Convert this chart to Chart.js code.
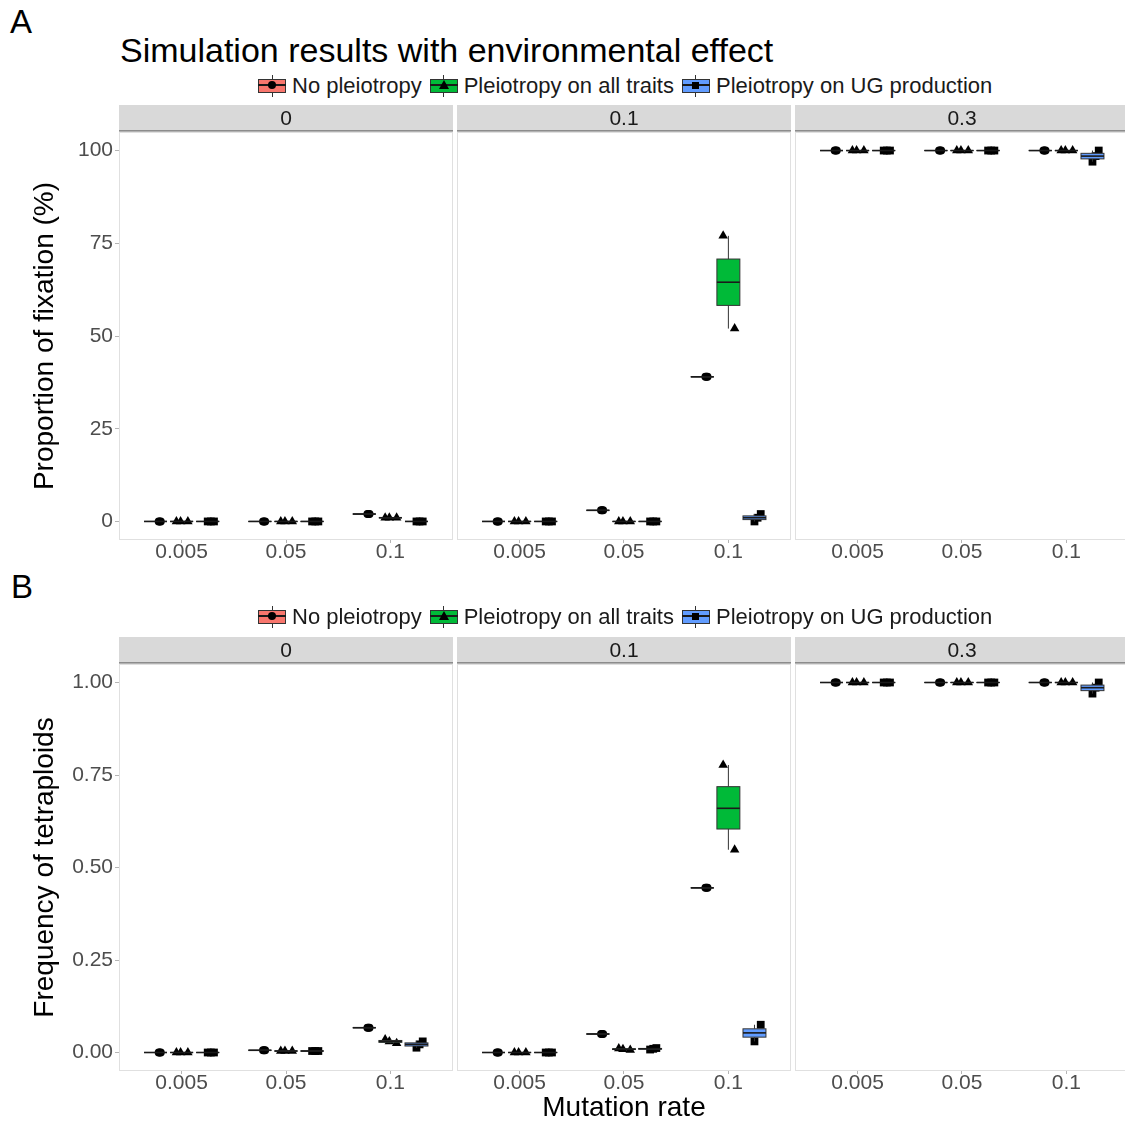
<!DOCTYPE html>
<html>
<head>
<meta charset="utf-8">
<script src="https://cdn.jsdelivr.net/npm/chart.js@4.4.1/dist/chart.umd.min.js"></script>
<style>
html,body{margin:0;padding:0;background:#fff;overflow:hidden;width:1125px;height:1122px;}
body{position:relative;font-family:'Liberation Sans',Arial,sans-serif;}
canvas{position:absolute;left:0;}
.lbl{position:absolute;font-size:33px;line-height:33px;color:#000;white-space:nowrap;}
.legend{position:absolute;left:258px;height:24px;display:flex;align-items:center;font-size:22px;color:#1a1a1a;white-space:nowrap;}
.key{position:relative;width:28px;height:22px;margin-right:6px;flex:none;}
.key .wh{position:absolute;left:13.5px;top:0;width:1px;height:22px;background:#333;}
.key .bx{position:absolute;left:0;top:4px;width:26px;height:12px;border:1px solid #333;}
.key .md{position:absolute;left:0;top:9px;width:28px;height:2px;background:#1a1a1a;}
.key .c{position:absolute;left:10px;top:6px;width:8px;height:8px;border-radius:50%;background:#000;}
.key .t{position:absolute;left:9px;top:5px;width:0;height:0;border-left:5px solid transparent;border-right:5px solid transparent;border-bottom:9px solid #000;}
.key .s{position:absolute;left:10.5px;top:6.5px;width:7px;height:7px;background:#000;}
.lt{margin-right:8px;}
</style>
</head>
<body>
<div class="lbl" style="left:10px;top:5px;">A</div>
<div class="lbl" style="left:120px;top:33px;font-size:34px;line-height:34px;">Simulation results with environmental effect</div>
<div class="lbl" style="left:11px;top:570px;">B</div>
<canvas id="rowA"></canvas>
<canvas id="rowB"></canvas>
<div class="legend" style="top:74px;">
  <span class="key"><i class="wh"></i><i class="bx" style="background:#F8766D"></i><i class="md"></i><i class="c"></i></span><span class="lt">No pleiotropy</span>
  <span class="key"><i class="wh"></i><i class="bx" style="background:#00BA38"></i><i class="md"></i><i class="t"></i></span><span class="lt">Pleiotropy on all traits</span>
  <span class="key"><i class="wh"></i><i class="bx" style="background:#619CFF"></i><i class="md"></i><i class="s"></i></span><span class="lt">Pleiotropy on UG production</span>
</div>
<div class="legend" style="top:605px;">
  <span class="key"><i class="wh"></i><i class="bx" style="background:#F8766D"></i><i class="md"></i><i class="c"></i></span><span class="lt">No pleiotropy</span>
  <span class="key"><i class="wh"></i><i class="bx" style="background:#00BA38"></i><i class="md"></i><i class="t"></i></span><span class="lt">Pleiotropy on all traits</span>
  <span class="key"><i class="wh"></i><i class="bx" style="background:#619CFF"></i><i class="md"></i><i class="s"></i></span><span class="lt">Pleiotropy on UG production</span>
</div>
<script>
// ---------------- DATA ----------------
const facets = ['0', '0.1', '0.3'];                 // facet strip labels
const rates = ['0.005', '0.05', '0.1'];             // mutation rate categories
const groups = ['No pleiotropy', 'Pleiotropy on all traits', 'Pleiotropy on UG production'];
// replicate values, ordered facet 0 (0.005, 0.05, 0.1), facet 0.1 (...), facet 0.3 (...)
const fixNoPleio   = [[0,0,0],[0,0,0],[2,2,2],       [0,0,0],[3,3,3],[39,39,39],          [100,100,100],[100,100,100],[100,100,100]];
const fixAllTraits = [[0,0,0],[0,0,0],[1,1,1],       [0,0,0],[0,0,0],[52,64.5,77],        [100,100,100],[100,100,100],[100,100,100]];
const fixUG        = [[0,0,0],[0,0,0],[0,0,0],       [0,0,0],[0,0,0],[0,1,2],             [100,100,100],[100,100,100],[97,98.5,100]];
const freqNoPleio   = [[0,0,0],[0.006,0.006,0.006],[0.067,0.067,0.067], [0,0,0],[0.05,0.05,0.05],[0.445,0.445,0.445], [1,1,1],[1,1,1],[1,1,1]];
const freqAllTraits = [[0,0,0],[0.004,0.004,0.004],[0.025,0.03,0.035],  [0,0,0],[0.007,0.009,0.011],[0.548,0.66,0.777], [1,1,1],[1,1,1],[1,1,1]];
const freqUG        = [[0,0,0],[0.004,0.004,0.004],[0.013,0.022,0.03],  [0,0,0],[0.008,0.01,0.012],[0.03,0.053,0.075],  [1,1,1],[1,1,1],[0.97,0.986,1]];
const fixTicks = [0, 25, 50, 75, 100];
const freqTicks = [0, 0.25, 0.5, 0.75, 1];

// ---------------- STYLE ----------------
const FONT = "'Liberation Sans', Arial, sans-serif";
const groupColors = ['#F8766D', '#00BA38', '#619CFF'];
const groupShapes = ['circle', 'triangle', 'rect'];
const groupRadius = [4, 5.5, 5.5];
const dodge = [-0.25, 0, 0.25];
const jitter = [[0.03, 0.05, 0.04], [0.06, -0.01, -0.05], [0.0, 0.03, 0.06]];
const BOX_HALF = 0.11;
const FACET_W = 3.2, GAP = 4 / 104.375, STEP = FACET_W + GAP;
const X_MIN = 0.4, X_MAX = 0.4 + 3 * FACET_W + 2 * GAP;
const center = (k, i) => 1 + i + k * STEP;

function quant(s, p) {
  const h = (s.length - 1) * p, lo = Math.floor(h), hi = Math.min(lo + 1, s.length - 1);
  return s[lo] + (h - lo) * (s[hi] - s[lo]);
}

const facetPlugin = {
  id: 'facetStrips',
  beforeDatasetsDraw(chart) {
    const {ctx, chartArea: a, scales: {x}} = chart;
    ctx.save();
    facets.forEach((lab, k) => {
      const x0 = x.getPixelForValue(X_MIN + k * STEP);
      const x1 = x.getPixelForValue(X_MIN + FACET_W + k * STEP);
      ctx.strokeStyle = '#e0e0e0'; ctx.lineWidth = 1;
      ctx.strokeRect(x0 + 0.5, a.top + 0.5, x1 - x0 - 1, a.bottom - a.top - 1);
      ctx.fillStyle = '#d9d9d9'; ctx.fillRect(x0, a.top - 27, x1 - x0, 27);
      ctx.fillStyle = '#8c8c8c'; ctx.fillRect(x0, a.top - 2, x1 - x0, 1.5);
      ctx.fillStyle = '#1a1a1a'; ctx.font = '21px ' + FONT;
      ctx.textAlign = 'center'; ctx.textBaseline = 'middle';
      ctx.fillText(lab, (x0 + x1) / 2, a.top - 13);
    });
    ctx.restore();
  }
};

function makeBoxPlugin(series) {
  return {
    id: 'boxes',
    afterDatasetsDraw(chart) {
      const {ctx, scales: {x, y}} = chart;
      const Y = v => y.getPixelForValue(v);
      const line = (a, b, c, d) => { ctx.beginPath(); ctx.moveTo(a, b); ctx.lineTo(c, d); ctx.stroke(); };
      ctx.save();
      series.forEach((vals, g) => {
        vals.forEach((reps, idx) => {
          const k = Math.floor(idx / 3), i = idx % 3;
          const c = center(k, i) + dodge[g];
          const s = [...reps].sort((p, q) => p - q);
          const q1 = quant(s, 0.25), med = quant(s, 0.5), q3 = quant(s, 0.75);
          const iqr = q3 - q1;
          const lo = Math.min(...s.filter(v => v >= q1 - 1.5 * iqr));
          const hi = Math.max(...s.filter(v => v <= q3 + 1.5 * iqr));
          const xl = x.getPixelForValue(c - BOX_HALF), xr = x.getPixelForValue(c + BOX_HALF), xc = x.getPixelForValue(c);
          ctx.strokeStyle = '#333'; ctx.lineWidth = 1;
          line(xc, Y(hi), xc, Y(q3));
          line(xc, Y(q1), xc, Y(lo));
          ctx.fillStyle = groupColors[g];
          ctx.fillRect(xl, Y(q3), xr - xl, Y(q1) - Y(q3));
          ctx.strokeRect(xl, Y(q3), xr - xl, Y(q1) - Y(q3));
          ctx.strokeStyle = '#1a1a1a'; ctx.lineWidth = 1.6;
          line(xl, Y(med), xr, Y(med));
        });
      });
      ctx.restore();
    }
  };
}

function makeRow(id, top, height, padTop, areaBottom, series, yMin, yMax, yTicks, fmt, yTitle, xTitle) {
  const canvas = document.getElementById(id);
  canvas.width = 1135; canvas.height = height;
  canvas.style.top = top + 'px'; canvas.style.width = '1135px'; canvas.style.height = height + 'px';
  const tickPos = [];
  for (let k = 0; k < 3; k++) for (let i = 0; i < 3; i++) tickPos.push(center(k, i));
  const datasets = series.map((vals, g) => ({
    label: groups[g],
    data: vals.flatMap((reps, idx) => {
      const k = Math.floor(idx / 3), i = idx % 3;
      return reps.map((v, r) => ({x: center(k, i) + dodge[g] + jitter[g][r], y: v}));
    }),
    pointStyle: groupShapes[g], pointRadius: groupRadius[g],
    backgroundColor: '#000', borderColor: '#000', borderWidth: 0, showLine: false
  }));
  new Chart(canvas, {
    type: 'scatter',
    data: {datasets},
    options: {
      responsive: false, animation: false, devicePixelRatio: 1,
      layout: {padding: {top: padTop, right: 6, left: 0, bottom: 0}},
      plugins: {legend: {display: false}, tooltip: {enabled: false}},
      scales: {
        x: {
          type: 'linear', min: X_MIN, max: X_MAX,
          afterBuildTicks: s => { s.ticks = tickPos.map(v => ({value: v})); },
          afterFit: s => { s.height = height - areaBottom; },
          ticks: {callback: (v, idx) => rates[idx % 3], color: '#4d4d4d', font: {size: 21, family: FONT}, padding: -3, maxRotation: 0, autoSkip: false},
          grid: {drawOnChartArea: false, drawTicks: true, tickLength: 3, color: '#b5b5b5'},
          border: {display: false},
          title: xTitle ? {display: true, text: xTitle, color: '#000', font: {size: 28, family: FONT}, padding: {top: 0, bottom: 15}} : {display: false}
        },
        y: {
          min: yMin, max: yMax,
          afterBuildTicks: s => { s.ticks = yTicks.map(v => ({value: v})); },
          afterFit: s => { s.width = 119; },
          ticks: {callback: fmt, color: '#4d4d4d', font: {size: 21, family: FONT}, padding: 2},
          grid: {drawOnChartArea: false, drawTicks: true, tickLength: 4, color: '#b5b5b5'},
          border: {display: false},
          title: {display: true, text: yTitle, color: '#000', font: {size: 28, family: FONT}, padding: {top: 28, bottom: 0}}
        }
      }
    },
    plugins: [facetPlugin, makeBoxPlugin(series)]
  });
}

makeRow('rowA', 100, 470, 32, 440, [fixNoPleio, fixAllTraits, fixUG], -5, 105, fixTicks,
        v => String(v), 'Proportion of fixation (%)', null);
makeRow('rowB', 600, 540, 64, 471, [freqNoPleio, freqAllTraits, freqUG], -0.05, 1.05, freqTicks,
        v => v.toFixed(2), 'Frequency of tetraploids', 'Mutation rate');
</script>
</body>
</html>
